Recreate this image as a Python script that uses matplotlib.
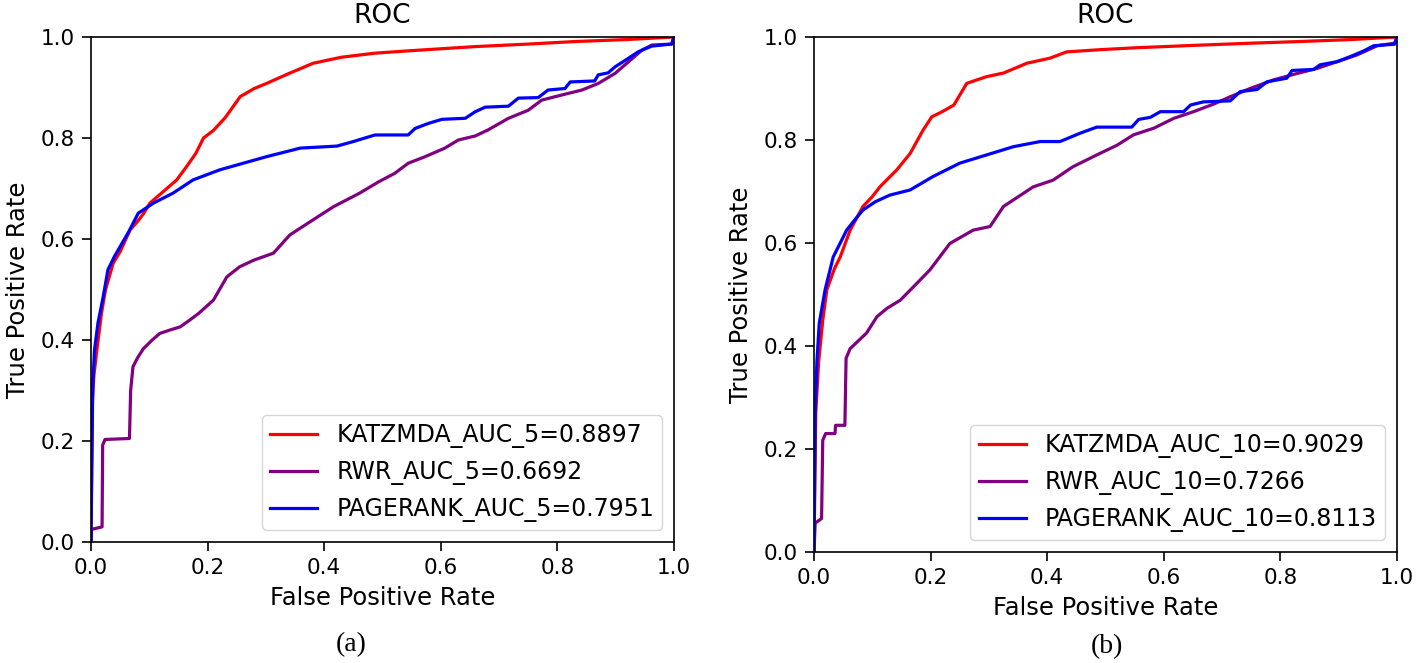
import matplotlib
matplotlib.use("Agg")
import matplotlib.pyplot as plt

# ---- panel (a): 5-fold ----
katz_a_fpr = [0, 0.002, 0.005, 0.01, 0.018, 0.025, 0.038, 0.05, 0.067, 0.08, 0.09, 0.101, 0.12, 0.147,
              0.165, 0.18, 0.193, 0.21, 0.23, 0.256, 0.28, 0.301, 0.34, 0.381, 0.43, 0.487, 0.55, 0.659,
              0.75, 0.83, 0.92, 1.0]
katz_a_tpr = [0, 0.27, 0.33, 0.38, 0.453, 0.50, 0.552, 0.575, 0.618, 0.635, 0.65, 0.671, 0.69, 0.717,
              0.745, 0.77, 0.80, 0.815, 0.84, 0.882, 0.898, 0.908, 0.928, 0.948, 0.96, 0.968, 0.973, 0.981,
              0.986, 0.991, 0.995, 1.0]

rwr_a_fpr = [0, 0.001, 0.019, 0.020, 0.024, 0.066, 0.068, 0.072, 0.08, 0.09, 0.105, 0.118, 0.136, 0.153,
             0.17, 0.185, 0.21, 0.233, 0.255, 0.279, 0.313, 0.341, 0.381, 0.416, 0.461, 0.493, 0.521, 0.544,
             0.573, 0.607, 0.63, 0.659, 0.681, 0.716, 0.75, 0.773, 0.807, 0.842, 0.87, 0.899, 0.922, 0.945,
             0.962, 0.996, 1.0]
rwr_a_tpr = [0, 0.025, 0.030, 0.192, 0.203, 0.205, 0.30, 0.347, 0.365, 0.383, 0.40, 0.413, 0.42, 0.426,
             0.44, 0.453, 0.479, 0.525, 0.545, 0.558, 0.572, 0.608, 0.638, 0.664, 0.691, 0.713, 0.73, 0.75,
             0.763, 0.78, 0.796, 0.804, 0.816, 0.839, 0.855, 0.875, 0.885, 0.895, 0.908, 0.928, 0.951, 0.974,
             0.984, 0.986, 1.0]

pr_a_fpr = [0, 0.003, 0.006, 0.012, 0.021, 0.029, 0.04, 0.05, 0.065, 0.081, 0.107, 0.141, 0.175, 0.221,
            0.261, 0.301, 0.359, 0.422, 0.45, 0.487, 0.544, 0.556, 0.579, 0.602, 0.642, 0.659, 0.676, 0.716,
            0.733, 0.767, 0.784, 0.813, 0.822, 0.864, 0.87, 0.887, 0.899, 0.922, 0.939, 0.962, 0.996, 1.0]
pr_a_tpr = [0, 0.31, 0.38, 0.434, 0.486, 0.539, 0.565, 0.585, 0.615, 0.651, 0.671, 0.691, 0.717, 0.737,
            0.75, 0.763, 0.78, 0.784, 0.793, 0.806, 0.806, 0.819, 0.829, 0.837, 0.839, 0.852, 0.861, 0.863,
            0.879, 0.88, 0.895, 0.898, 0.911, 0.913, 0.925, 0.929, 0.941, 0.958, 0.971, 0.982, 0.986, 1.0]

# ---- panel (b): 10-fold ----
katz_b_fpr = [0, 0.003, 0.008, 0.015, 0.022, 0.035, 0.045, 0.062, 0.084, 0.1, 0.113, 0.142, 0.165, 0.187,
              0.202, 0.22, 0.24, 0.262, 0.296, 0.325, 0.365, 0.405, 0.433, 0.485, 0.55, 0.657, 0.75, 0.828,
              0.92, 1.0]
katz_b_tpr = [0, 0.27, 0.37, 0.45, 0.509, 0.55, 0.573, 0.625, 0.671, 0.69, 0.709, 0.742, 0.774, 0.819,
              0.845, 0.855, 0.868, 0.91, 0.923, 0.93, 0.949, 0.959, 0.971, 0.975, 0.979, 0.984, 0.988, 0.991,
              0.995, 1.0]

rwr_b_fpr = [0, 0.002, 0.013, 0.015, 0.02, 0.036, 0.037, 0.053, 0.055, 0.062, 0.09, 0.108, 0.125, 0.148,
             0.175, 0.199, 0.233, 0.273, 0.302, 0.325, 0.376, 0.41, 0.444, 0.485, 0.52, 0.548, 0.583, 0.617,
             0.651, 0.686, 0.714, 0.748, 0.789, 0.828, 0.863, 0.897, 0.931, 0.966, 0.996, 1.0]
rwr_b_tpr = [0, 0.056, 0.065, 0.217, 0.23, 0.23, 0.246, 0.246, 0.376, 0.395, 0.425, 0.457, 0.473, 0.489,
             0.52, 0.548, 0.599, 0.625, 0.632, 0.671, 0.709, 0.722, 0.748, 0.771, 0.79, 0.81, 0.823, 0.842,
             0.855, 0.87, 0.884, 0.9, 0.917, 0.929, 0.939, 0.952, 0.965, 0.983, 0.988, 1.0]

pr_b_fpr = [0, 0.002, 0.005, 0.009, 0.019, 0.033, 0.045, 0.056, 0.07, 0.084, 0.105, 0.13, 0.165, 0.204,
            0.25, 0.296, 0.342, 0.388, 0.422, 0.456, 0.485, 0.545, 0.557, 0.577, 0.594, 0.634, 0.646, 0.668,
            0.714, 0.731, 0.76, 0.777, 0.811, 0.82, 0.857, 0.868, 0.897, 0.92, 0.943, 0.96, 0.996, 1.0]
pr_b_tpr = [0, 0.27, 0.37, 0.444, 0.509, 0.573, 0.60, 0.625, 0.645, 0.664, 0.68, 0.693, 0.703, 0.729,
            0.755, 0.771, 0.787, 0.797, 0.797, 0.813, 0.825, 0.825, 0.84, 0.844, 0.855, 0.855, 0.868, 0.874,
            0.876, 0.894, 0.898, 0.913, 0.92, 0.935, 0.937, 0.946, 0.952, 0.962, 0.973, 0.983, 0.986, 1.0]

labels_a = ['KATZMDA_AUC_5=0.8897', 'RWR_AUC_5=0.6692', 'PAGERANK_AUC_5=0.7951']
labels_b = ['KATZMDA_AUC_10=0.9029', 'RWR_AUC_10=0.7266', 'PAGERANK_AUC_10=0.8113']
colors = ['red', 'purple', 'blue']

W, H = 1418, 663
fig = plt.figure(figsize=(W / 100, H / 100), dpi=100)
ax1 = fig.add_axes([91 / W, (H - 542) / H, 583 / W, 505 / H])
ax2 = fig.add_axes([814 / W, (H - 552) / H, 583 / W, 515 / H])

panels = [
    (ax1, [(katz_a_fpr, katz_a_tpr), (rwr_a_fpr, rwr_a_tpr), (pr_a_fpr, pr_a_tpr)], labels_a),
    (ax2, [(katz_b_fpr, katz_b_tpr), (rwr_b_fpr, rwr_b_tpr), (pr_b_fpr, pr_b_tpr)], labels_b),
]

for ax, curves, labels in panels:
    for (fpr, tpr), lab, c in zip(curves, labels, colors):
        ax.plot(fpr, tpr, color=c, lw=2.3, label=lab)
    ax.set_xlim(0, 1)
    ax.set_ylim(0, 1)
    ax.set_title('ROC', fontsize=19, pad=10)
    ax.set_xlabel('False Positive Rate', fontsize=17.5, labelpad=6)
    ax.set_ylabel('True Positive Rate', fontsize=17.5, labelpad=8)
    ax.tick_params(labelsize=15.5, length=6.5, width=1.2, pad=5)
    for s in ax.spines.values():
        s.set_linewidth(1.2)
    ax.legend(loc='lower right', fontsize=17, handlelength=2.0, borderpad=0.35)

fig.text(351 / W, 1 - 645 / H, '(a)', ha='center', va='center', family='Liberation Serif', fontsize=20)
fig.text(1107 / W, 1 - 647 / H, '(b)', ha='center', va='center', family='Liberation Serif', fontsize=20)

fig.savefig('out.png', dpi=100)
